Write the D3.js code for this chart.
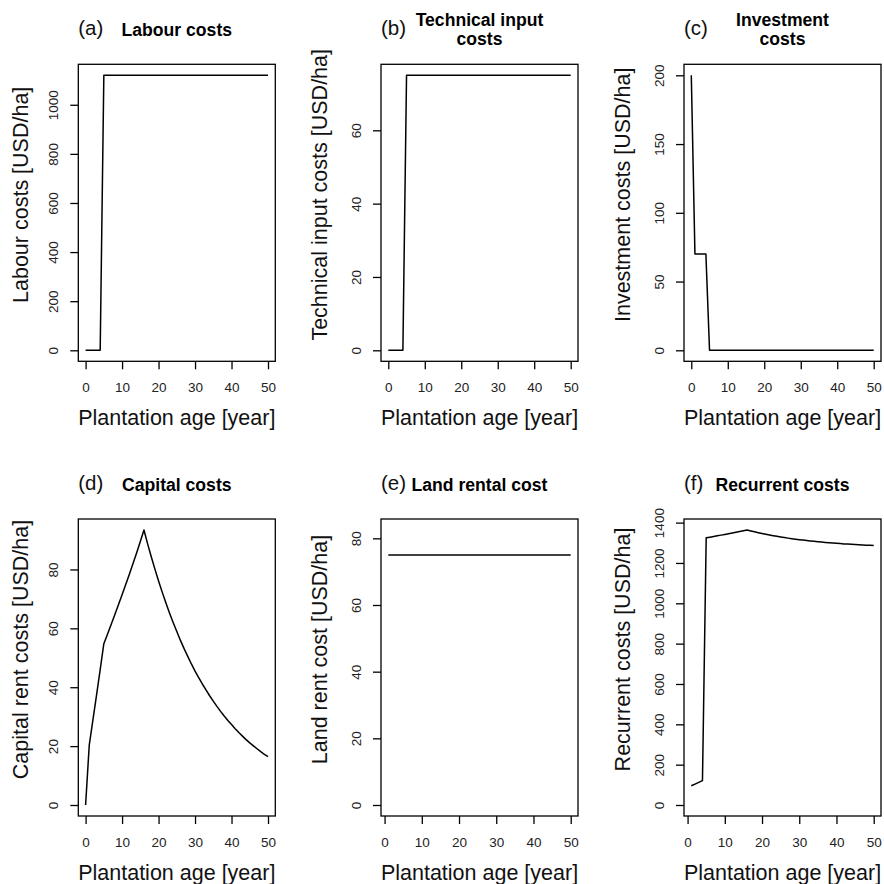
<!DOCTYPE html>
<html>
<head>
<meta charset="utf-8">
<script src="https://cdn.jsdelivr.net/npm/d3@7"></script>
<style>
  body { margin: 0; background: #fff; }
  svg { display: block; font-family: "Liberation Sans", Arial, Helvetica, sans-serif; }
</style>
</head>
<body>
<svg id="chart" width="884" height="884"></svg>
<script>
// plantation age, two x series (some panels start at year 1)
const agesFrom0 = [0, 1, 2, 3, 4, 5, 6, 7, 8, 9, 10, 11, 12, 13, 14, 15, 16, 17, 18, 19, 20,
  21, 22, 23, 24, 25, 26, 27, 28, 29, 30, 31, 32, 33, 34, 35, 36, 37, 38, 39, 40,
  41, 42, 43, 44, 45, 46, 47, 48, 49, 50];
const agesFrom1 = agesFrom0.slice(1);

// values (USD/ha)
const labourCosts = [0, 0, 0, 0, 0, 1120, 1120, 1120, 1120, 1120, 1120, 1120, 1120, 1120, 1120, 1120,
  1120, 1120, 1120, 1120, 1120, 1120, 1120, 1120, 1120, 1120, 1120, 1120, 1120, 1120, 1120,
  1120, 1120, 1120, 1120, 1120, 1120, 1120, 1120, 1120, 1120, 1120, 1120, 1120, 1120, 1120,
  1120, 1120, 1120, 1120, 1120];
const technicalCosts = [0, 0, 0, 0, 0, 75, 75, 75, 75, 75, 75, 75, 75, 75, 75, 75, 75, 75, 75, 75, 75,
  75, 75, 75, 75, 75, 75, 75, 75, 75, 75, 75, 75, 75, 75, 75, 75, 75, 75, 75, 75,
  75, 75, 75, 75, 75, 75, 75, 75, 75, 75];
const investmentCosts = [200, 70, 70, 70, 70, 0, 0, 0, 0, 0, 0, 0, 0, 0, 0, 0, 0, 0, 0, 0, 0,
  0, 0, 0, 0, 0, 0, 0, 0, 0, 0, 0, 0, 0, 0, 0, 0, 0, 0, 0, 0,
  0, 0, 0, 0, 0, 0, 0, 0, 0, 0];
const capitalCosts = [0, 20.3, 28.8, 37.3, 46.0, 54.8, 58.0, 61.3, 64.6, 68.0, 71.4, 74.9, 78.4, 82.0,
  85.7, 89.5, 93.4, 88.7, 84.3, 80.1, 76.1, 72.3, 68.7, 65.2, 62.0, 58.9, 55.9, 53.1, 50.5,
  47.9, 45.5, 43.3, 41.1, 39.1, 37.1, 35.3, 33.5, 31.8, 30.2, 28.7, 27.3, 25.9, 24.6, 23.4,
  22.2, 21.1, 20.1, 19.1, 18.1, 17.2, 16.4];
const landRent = [75, 75, 75, 75, 75, 75, 75, 75, 75, 75, 75, 75, 75, 75, 75, 75, 75, 75, 75, 75,
  75, 75, 75, 75, 75, 75, 75, 75, 75, 75, 75, 75, 75, 75, 75, 75, 75, 75, 75, 75,
  75, 75, 75, 75, 75, 75, 75, 75, 75, 75];
const recurrentCosts = [95.3, 103.8, 112.3, 121.0, 1324.8, 1328.0, 1331.3, 1334.6, 1338.0, 1341.4,
  1344.9, 1348.4, 1352.0, 1355.7, 1359.5, 1363.4, 1358.7, 1354.3, 1350.1, 1346.1, 1342.3,
  1338.7, 1335.2, 1332.0, 1328.9, 1325.9, 1323.1, 1320.5, 1317.9, 1315.5, 1313.3, 1311.1,
  1309.1, 1307.1, 1305.3, 1303.5, 1301.8, 1300.2, 1298.7, 1297.3, 1295.9, 1294.6, 1293.4,
  1292.2, 1291.1, 1290.1, 1289.1, 1288.1, 1287.2, 1286.4];

const panelTags = ['(a)', '(b)', '(c)', '(d)', '(e)', '(f)'];
const panelTitles = [['Labour costs'], ['Technical input', 'costs'], ['Investment', 'costs'],
  ['Capital costs'], ['Land rental cost'], ['Recurrent costs']];
const yTitles = ['Labour costs [USD/ha]', 'Technical input costs [USD/ha]', 'Investment costs [USD/ha]',
  'Capital rent costs [USD/ha]', 'Land rent cost [USD/ha]', 'Recurrent costs [USD/ha]'];
const xTitle = 'Plantation age [year]';
const panelX = [agesFrom0, agesFrom0, agesFrom0, agesFrom0, agesFrom1, agesFrom1];
const panelY = [labourCosts, technicalCosts, investmentCosts, capitalCosts, landRent, recurrentCosts];
// upper y limit where the plot used one (null = data max)
const yLimTop = [null, null, null, null, 82.5, null];

const svg = d3.select('#chart');
const colLeft = [78.3, 381, 684];
const rowTop = [64.3, 519];
const boxW = 197;
const boxH = 297;
const fmt = d3.format('d');

// R style: pad the range by 4% at each end
function padded(lo, hi) {
  const e = (hi - lo) * 0.04;
  return [lo - e, hi + e];
}

panelTags.forEach((tag, i) => {
  const col = i % 3;
  const row = Math.floor(i / 3);
  const left = colLeft[col];
  const top = rowTop[row];
  const xs = panelX[i];
  const ys = panelY[i];

  const x = d3.scaleLinear()
    .domain(padded(d3.min(xs), d3.max(xs)))
    .range([left, left + boxW]);
  const yMax = yLimTop[i] === null ? d3.max(ys) : yLimTop[i];
  const y = d3.scaleLinear()
    .domain(padded(0, yMax))
    .range([top + boxH, top]);

  const g = svg.append('g');

  // x axis
  const xAxis = g.append('g')
    .attr('transform', `translate(0,${top + boxH})`)
    .call(d3.axisBottom(x).ticks(5).tickSize(8).tickFormat(fmt));
  xAxis.select('.domain').remove();
  xAxis.selectAll('line').attr('stroke', '#000').attr('stroke-width', 1.3);
  xAxis.selectAll('text')
    .attr('y', 31).attr('dy', null)
    .attr('fill', '#222')
    .style('font-size', '13.5px');

  // y axis, labels parallel to the axis
  const yAxis = g.append('g')
    .attr('transform', `translate(${left},0)`)
    .call(d3.axisLeft(y).ticks(5).tickSize(8).tickFormat(fmt));
  yAxis.select('.domain').remove();
  yAxis.selectAll('line').attr('stroke', '#000').attr('stroke-width', 1.3);
  yAxis.selectAll('text')
    .attr('x', null).attr('dy', null)
    .attr('transform', 'translate(-20.5,0) rotate(-90)')
    .attr('text-anchor', 'middle')
    .attr('fill', '#222')
    .style('font-size', '13.5px');

  // plot box
  g.append('rect')
    .attr('x', left).attr('y', top)
    .attr('width', boxW).attr('height', boxH)
    .attr('fill', 'none')
    .attr('stroke', '#000')
    .attr('stroke-width', 1.3);

  // the series
  const line = d3.line()
    .x((d, k) => x(xs[k]))
    .y(d => y(d));
  g.append('path')
    .datum(ys)
    .attr('d', line)
    .attr('fill', 'none')
    .attr('stroke', '#000')
    .attr('stroke-width', 1.5)
    .attr('stroke-linejoin', 'round');

  // axis titles
  g.append('text')
    .attr('x', left + boxW / 2)
    .attr('y', top + boxH + 64)
    .attr('text-anchor', 'middle')
    .attr('fill', '#111')
    .style('font-size', '21.5px')
    .text(xTitle);

  const yGap = col === 0 ? 50 : 54;
  g.append('text')
    .attr('transform', `translate(${left - yGap},${top + boxH / 2 - 18}) rotate(-90)`)
    .attr('text-anchor', 'middle')
    .attr('fill', '#111')
    .style('font-size', '21.5px')
    .text(yTitles[i]);

  // panel tag and bold title
  g.append('text')
    .attr('x', left)
    .attr('y', top - 29)
    .attr('fill', '#111')
    .style('font-size', '20.5px')
    .text(tag);

  const lines = panelTitles[i];
  lines.forEach((t, k) => {
    g.append('text')
      .attr('x', left + boxW / 2)
      .attr('y', top - 28.5 + (k - (lines.length - 1) / 2) * 19)
      .attr('text-anchor', 'middle')
      .attr('font-weight', 'bold')
      .attr('fill', '#000')
      .style('font-size', '17.6px')
      .text(t);
  });
});
</script>
</body>
</html>
